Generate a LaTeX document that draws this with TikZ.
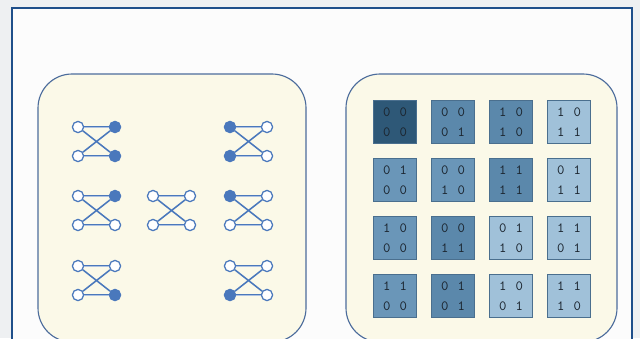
\documentclass[tikz,border=0pt]{standalone}
\usetikzlibrary{positioning}
\definecolor{outerbg}{HTML}{EEF0F2}
\definecolor{innerbg}{HTML}{FCFCFC}
\definecolor{framebl}{HTML}{1F4F8A}
\definecolor{cream}{HTML}{FBF9E8}
\definecolor{panelline}{HTML}{4C6C9C}
\definecolor{gadget}{HTML}{4A78BC}
\definecolor{cellline}{HTML}{4A6F8E}
\definecolor{digit}{HTML}{1C2630}
\definecolor{shA}{HTML}{2E5877}
\definecolor{shB}{HTML}{5B88AB}
\definecolor{shC}{HTML}{6A96B8}
\definecolor{shD}{HTML}{A0C1D9}

\begin{document}
\begin{tikzpicture}[x=0.025cm,y=-0.025cm,
  vo/.style={circle,draw=gadget,fill=white,line width=0.9pt,minimum size=0.28cm,inner sep=0pt},
  vf/.style={vo,fill=gadget},
  wire/.style={draw=gadget,line width=0.7pt,double=gadget!45!white,double distance=0.6pt},
  cross/.style={draw=gadget,line width=1.1pt},
  panel/.style={draw=panelline,fill=cream,line width=0.8pt,rounded corners=0.85cm},
  cell/.style={draw=cellline,line width=0.7pt,minimum size=1.075cm,inner sep=0pt,
    align=center,font=\ttfamily,text=digit}]
  \useasboundingbox (0,0) rectangle (640,338);
  \clip (0,0) rectangle (640,338);
  \fill[outerbg] (0,0) rectangle (640,338);
  \fill[innerbg] (12,8) rectangle (632,350);
  \draw[framebl,line width=1.7pt] (12,350) -- (12,8) -- (632,8) -- (632,350);

  % panels
  \draw[panel] (38,74) rectangle (306,342);
  \draw[panel] (346,74) rectangle (617,342);

  % crossing gadgets: tl/tr/bl/br
  \foreach \n/\x/\y/\a/\b/\c/\d in {g1/78/127/vo/vf/vo/vf, g2/230/127/vf/vo/vf/vo,
      g3/78/196/vo/vf/vo/vo, g4/153/196/vo/vo/vo/vo, g5/230/196/vf/vo/vo/vo,
      g6/78/266/vo/vo/vo/vf, g7/230/266/vo/vo/vf/vo}
  {
    \node[\a] (\n-tl) at (\x,\y) {};
    \node[\b] (\n-tr) at (\x+37,\y) {};
    \node[\c] (\n-bl) at (\x,\y+29) {};
    \node[\d] (\n-br) at (\x+37,\y+29) {};
    \draw[cross] (\n-tl) -- (\n-br) (\n-bl) -- (\n-tr);
    \draw[wire] (\n-tl) -- (\n-tr) (\n-bl) -- (\n-br);
  }

  % 2x2 bit cells
  \foreach \r/\c/\s/\p/\q/\u/\v in {1/1/shA/0/0/0/0, 1/2/shB/0/0/0/1, 1/3/shB/1/0/1/0, 1/4/shD/1/0/1/1,
      2/1/shC/0/1/0/0, 2/2/shC/0/0/1/0, 2/3/shB/1/1/1/1, 2/4/shD/0/1/1/1,
      3/1/shC/1/0/0/0, 3/2/shB/0/0/1/1, 3/3/shD/0/1/1/0, 3/4/shD/1/1/0/1,
      4/1/shC/1/1/0/0, 4/2/shB/0/1/0/1, 4/3/shD/1/0/0/1, 4/4/shD/1/1/1/0}
  {
    \node[cell,fill=\s] (c\r\c) at ({337+58*\c},{64+58*\r})
      {\p\hspace{2.3mm}\q\\[0.9mm]\u\hspace{2.3mm}\v};
  }
\end{tikzpicture}
\end{document}
